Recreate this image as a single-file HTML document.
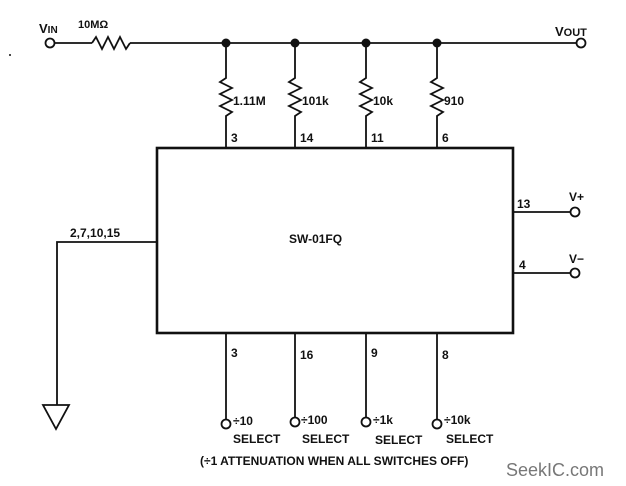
<!DOCTYPE html>
<html><head><style>
html,body{margin:0;padding:0;background:#fff;}
svg{display:block;}
text{font-family:"Liberation Sans",sans-serif;font-weight:bold;fill:#111;}
</style></head><body>
<svg width="626" height="486" viewBox="0 0 626 486" xmlns="http://www.w3.org/2000/svg">
<g stroke="#111" stroke-width="1.8" fill="none">
<circle cx="50" cy="43" r="4.5"/>
<line x1="55" y1="43" x2="92" y2="43"/>
<polyline points="92,43 96,37 102,49 108,37 114,49 120,37 126,49 130,43"/>
<line x1="130" y1="43" x2="576" y2="43"/>
<circle cx="581" cy="43" r="4.5"/>
<g>
<polyline points="226,43 226,78 220,82 232,88 220,94 232,100 220,106 232,112 226,116 226,148"/>
<polyline points="295,43 295,78 289,82 301,88 289,94 301,100 289,106 301,112 295,116 295,148"/>
<polyline points="366,43 366,78 360,82 372,88 360,94 372,100 360,106 372,112 366,116 366,148"/>
<polyline points="437,43 437,78 431,82 443,88 431,94 443,100 431,106 443,112 437,116 437,148"/>
</g>
<rect x="157" y="148" width="356" height="185" stroke-width="2.6"/>
<polyline points="157,242 57,242 57,405"/>
<polygon points="43,405 69,405 56,429"/>
<line x1="513" y1="212" x2="571" y2="212"/>
<circle cx="575" cy="212" r="4.5"/>
<line x1="513" y1="273" x2="571" y2="273"/>
<circle cx="575" cy="273" r="4.5"/>
<line x1="226" y1="333" x2="226" y2="419"/><circle cx="226" cy="424" r="4.5"/>
<line x1="295" y1="333" x2="295" y2="417"/><circle cx="295" cy="422" r="4.5"/>
<line x1="366" y1="333" x2="366" y2="417"/><circle cx="366" cy="422" r="4.5"/>
<line x1="437" y1="333" x2="437" y2="419"/><circle cx="437" cy="424" r="4.5"/>
</g>
<g fill="#111">
<circle cx="226" cy="43" r="4.5"/><circle cx="295" cy="43" r="4.5"/>
<circle cx="366" cy="43" r="4.5"/><circle cx="437" cy="43" r="4.5"/>
<circle cx="10" cy="55" r="1"/>
</g>
<g font-size="12">
<text x="39" y="33" font-size="13">V<tspan font-size="10">IN</tspan></text>
<text x="78" y="28" font-size="11">10MΩ</text>
<text x="555" y="36" font-size="13">V<tspan font-size="11">OUT</tspan></text>
<text x="233" y="105">1.11M</text>
<text x="302" y="105">101k</text>
<text x="373" y="105">10k</text>
<text x="444" y="105">910</text>
<text x="231" y="142">3</text>
<text x="300" y="142">14</text>
<text x="371" y="142">11</text>
<text x="442" y="142">6</text>
<text x="289" y="243">SW-01FQ</text>
<text x="70" y="237">2,7,10,15</text>
<text x="517" y="208">13</text>
<text x="569" y="201">V+</text>
<text x="519" y="269">4</text>
<text x="569" y="263">V−</text>
<text x="231" y="357">3</text>
<text x="300" y="359">16</text>
<text x="371" y="357">9</text>
<text x="442" y="359">8</text>
<text x="233" y="425">÷10</text>
<text x="301" y="424">÷100</text>
<text x="373" y="424">÷1k</text>
<text x="444" y="424">÷10k</text>
<text x="233" y="443">SELECT</text>
<text x="302" y="443">SELECT</text>
<text x="375" y="444">SELECT</text>
<text x="446" y="443">SELECT</text>
<text x="200" y="465">(÷1 ATTENUATION WHEN ALL SWITCHES OFF)</text>
<text x="506" y="476" font-size="18" style="font-weight:normal;fill:#777">SeekIC.com</text>
</g>
</svg>
</body></html>
